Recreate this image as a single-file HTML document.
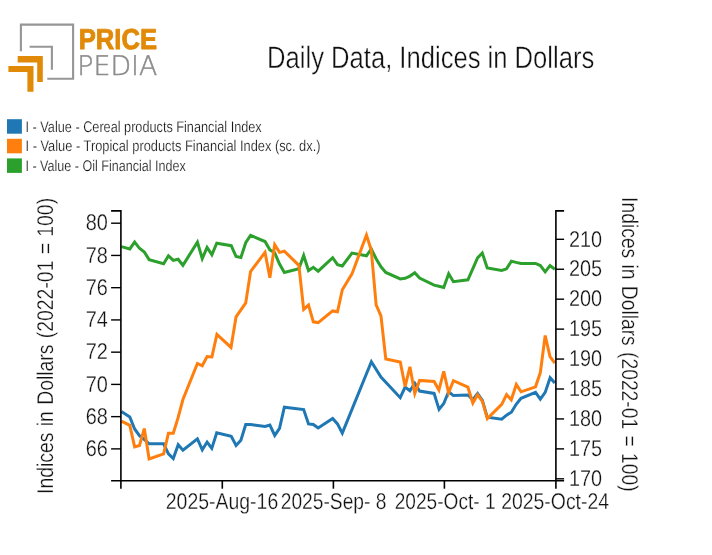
<!DOCTYPE html><html><head><meta charset="utf-8"><title>Daily Data, Indices in Dollars</title>
<style>html,body{margin:0;padding:0;background:#fff;}svg{display:block;will-change:transform;}text{font-kerning:normal;text-rendering:geometricPrecision;}</style></head><body>
<svg width="712" height="555" viewBox="0 0 712 555">
<rect width="712" height="555" fill="#fff"/>
<g fill="none" stroke="#969696" stroke-width="2.1">
<path d="M20.9,51.2 V24.6 H73.1 V78.7 H47.3"/>
<path d="M29.6,46.7 H51.9 V69.7"/>
</g>
<g fill="#e18a07">
<path d="M17.7,56.0 H42.8 V81.9 H37.2 V62.4 H17.7 Z"/>
<path d="M8.4,66 H33.5 V91.7 H27.4 V72 H8.4 Z"/>
</g>
<text transform="translate(78.76,48.80) scale(0.8858,1.0000)" font-size="28.90" text-anchor="start" fill="#e18a07" font-weight="bold" font-family="'Liberation Sans', Arial, Helvetica, sans-serif" xml:space="preserve" stroke="#e18a07" stroke-width="0.9" stroke-linejoin="round">PRICE</text>
<text transform="translate(77.26,74.80) scale(0.9935,1.0000)" font-size="27.00" text-anchor="start" fill="#8c8c8c" font-weight="200" font-family="'DejaVu Sans Light','DejaVu Sans','Liberation Sans',sans-serif" xml:space="preserve" stroke="#8c8c8c" stroke-width="0.45">PEDIA</text>
<text transform="translate(267.05,67.90) scale(0.8258,1.0000)" font-size="31.00" text-anchor="start" fill="#111" font-weight="normal" font-family="'Liberation Sans', Arial, Helvetica, sans-serif" xml:space="preserve" stroke="#fff" stroke-width="0.4" paint-order="fill stroke">Daily Data, Indices in Dollars</text>
<rect x="7" y="119.2" width="14.9" height="14.5" fill="#1f77b4"/>
<text transform="translate(25.53,131.70) scale(0.8249,1.0000)" font-size="15.40" text-anchor="start" fill="#151515" font-weight="normal" font-family="'Liberation Sans', Arial, Helvetica, sans-serif" xml:space="preserve" stroke="#fff" stroke-width="0.2" paint-order="fill stroke">I - Value - Cereal products Financial Index</text>
<rect x="7" y="138.8" width="14.9" height="14.5" fill="#ff7f0e"/>
<text transform="translate(25.55,151.40) scale(0.8336,1.0000)" font-size="15.40" text-anchor="start" fill="#151515" font-weight="normal" font-family="'Liberation Sans', Arial, Helvetica, sans-serif" xml:space="preserve" stroke="#fff" stroke-width="0.2" paint-order="fill stroke">I - Value - Tropical products Financial Index (sc. dx.)</text>
<rect x="7" y="158.4" width="14.9" height="14.5" fill="#2ca02c"/>
<text transform="translate(25.47,170.90) scale(0.8158,1.0000)" font-size="15.40" text-anchor="start" fill="#151515" font-weight="normal" font-family="'Liberation Sans', Arial, Helvetica, sans-serif" xml:space="preserve" stroke="#fff" stroke-width="0.2" paint-order="fill stroke">I - Value - Oil Financial Index</text>
<text transform="translate(107.78,455.60) scale(0.8732,1.0000)" font-size="22.80" text-anchor="end" fill="#111" font-weight="normal" font-family="'Liberation Sans', Arial, Helvetica, sans-serif" xml:space="preserve" stroke="#fff" stroke-width="0.3" paint-order="fill stroke">66</text>
<text transform="translate(107.78,423.60) scale(0.8732,1.0000)" font-size="22.80" text-anchor="end" fill="#111" font-weight="normal" font-family="'Liberation Sans', Arial, Helvetica, sans-serif" xml:space="preserve" stroke="#fff" stroke-width="0.3" paint-order="fill stroke">68</text>
<text transform="translate(107.78,391.60) scale(0.8732,1.0000)" font-size="22.80" text-anchor="end" fill="#111" font-weight="normal" font-family="'Liberation Sans', Arial, Helvetica, sans-serif" xml:space="preserve" stroke="#fff" stroke-width="0.3" paint-order="fill stroke">70</text>
<text transform="translate(107.78,358.60) scale(0.8732,1.0000)" font-size="22.80" text-anchor="end" fill="#111" font-weight="normal" font-family="'Liberation Sans', Arial, Helvetica, sans-serif" xml:space="preserve" stroke="#fff" stroke-width="0.3" paint-order="fill stroke">72</text>
<text transform="translate(107.78,326.60) scale(0.8732,1.0000)" font-size="22.80" text-anchor="end" fill="#111" font-weight="normal" font-family="'Liberation Sans', Arial, Helvetica, sans-serif" xml:space="preserve" stroke="#fff" stroke-width="0.3" paint-order="fill stroke">74</text>
<text transform="translate(107.78,294.60) scale(0.8732,1.0000)" font-size="22.80" text-anchor="end" fill="#111" font-weight="normal" font-family="'Liberation Sans', Arial, Helvetica, sans-serif" xml:space="preserve" stroke="#fff" stroke-width="0.3" paint-order="fill stroke">76</text>
<text transform="translate(107.78,262.60) scale(0.8732,1.0000)" font-size="22.80" text-anchor="end" fill="#111" font-weight="normal" font-family="'Liberation Sans', Arial, Helvetica, sans-serif" xml:space="preserve" stroke="#fff" stroke-width="0.3" paint-order="fill stroke">78</text>
<text transform="translate(107.78,229.60) scale(0.8732,1.0000)" font-size="22.80" text-anchor="end" fill="#111" font-weight="normal" font-family="'Liberation Sans', Arial, Helvetica, sans-serif" xml:space="preserve" stroke="#fff" stroke-width="0.3" paint-order="fill stroke">80</text>
<text transform="translate(569.02,485.60) scale(0.8712,1.0000)" font-size="22.80" text-anchor="start" fill="#111" font-weight="normal" font-family="'Liberation Sans', Arial, Helvetica, sans-serif" xml:space="preserve" stroke="#fff" stroke-width="0.3" paint-order="fill stroke">170</text>
<text transform="translate(569.02,455.60) scale(0.8712,1.0000)" font-size="22.80" text-anchor="start" fill="#111" font-weight="normal" font-family="'Liberation Sans', Arial, Helvetica, sans-serif" xml:space="preserve" stroke="#fff" stroke-width="0.3" paint-order="fill stroke">175</text>
<text transform="translate(569.02,425.60) scale(0.8712,1.0000)" font-size="22.80" text-anchor="start" fill="#111" font-weight="normal" font-family="'Liberation Sans', Arial, Helvetica, sans-serif" xml:space="preserve" stroke="#fff" stroke-width="0.3" paint-order="fill stroke">180</text>
<text transform="translate(569.02,395.60) scale(0.8712,1.0000)" font-size="22.80" text-anchor="start" fill="#111" font-weight="normal" font-family="'Liberation Sans', Arial, Helvetica, sans-serif" xml:space="preserve" stroke="#fff" stroke-width="0.3" paint-order="fill stroke">185</text>
<text transform="translate(569.02,365.60) scale(0.8712,1.0000)" font-size="22.80" text-anchor="start" fill="#111" font-weight="normal" font-family="'Liberation Sans', Arial, Helvetica, sans-serif" xml:space="preserve" stroke="#fff" stroke-width="0.3" paint-order="fill stroke">190</text>
<text transform="translate(569.02,335.60) scale(0.8712,1.0000)" font-size="22.80" text-anchor="start" fill="#111" font-weight="normal" font-family="'Liberation Sans', Arial, Helvetica, sans-serif" xml:space="preserve" stroke="#fff" stroke-width="0.3" paint-order="fill stroke">195</text>
<text transform="translate(569.02,305.60) scale(0.8712,1.0000)" font-size="22.80" text-anchor="start" fill="#111" font-weight="normal" font-family="'Liberation Sans', Arial, Helvetica, sans-serif" xml:space="preserve" stroke="#fff" stroke-width="0.3" paint-order="fill stroke">200</text>
<text transform="translate(569.02,275.60) scale(0.8712,1.0000)" font-size="22.80" text-anchor="start" fill="#111" font-weight="normal" font-family="'Liberation Sans', Arial, Helvetica, sans-serif" xml:space="preserve" stroke="#fff" stroke-width="0.3" paint-order="fill stroke">205</text>
<text transform="translate(569.02,246.60) scale(0.8712,1.0000)" font-size="22.80" text-anchor="start" fill="#111" font-weight="normal" font-family="'Liberation Sans', Arial, Helvetica, sans-serif" xml:space="preserve" stroke="#fff" stroke-width="0.3" paint-order="fill stroke">210</text>
<text transform="translate(222.00,508.80) scale(0.8528,1.0000)" font-size="22.80" text-anchor="middle" fill="#111" font-weight="normal" font-family="'Liberation Sans', Arial, Helvetica, sans-serif" xml:space="preserve" stroke="#fff" stroke-width="0.3" paint-order="fill stroke">2025-Aug-16</text>
<text transform="translate(333.59,508.80) scale(0.8429,1.0000)" font-size="22.80" text-anchor="middle" fill="#111" font-weight="normal" font-family="'Liberation Sans', Arial, Helvetica, sans-serif" xml:space="preserve" stroke="#fff" stroke-width="0.3" paint-order="fill stroke">2025-Sep- 8</text>
<text transform="translate(445.11,508.80) scale(0.8373,1.0000)" font-size="22.80" text-anchor="middle" fill="#111" font-weight="normal" font-family="'Liberation Sans', Arial, Helvetica, sans-serif" xml:space="preserve" stroke="#fff" stroke-width="0.3" paint-order="fill stroke">2025-Oct- 1</text>
<text transform="translate(555.10,508.80) scale(0.8513,1.0000)" font-size="22.80" text-anchor="middle" fill="#111" font-weight="normal" font-family="'Liberation Sans', Arial, Helvetica, sans-serif" xml:space="preserve" stroke="#fff" stroke-width="0.3" paint-order="fill stroke">2025-Oct-24</text>
<text transform="translate(53.00,345.92) rotate(-90) scale(0.8513,1.0000)" font-size="22.80" text-anchor="middle" fill="#111" font-weight="normal" font-family="'Liberation Sans', Arial, Helvetica, sans-serif" xml:space="preserve" stroke="#fff" stroke-width="0.3" paint-order="fill stroke" word-spacing="1.00">Indices in Dollars (2022-01 = 100)</text>
<text transform="translate(621.90,344.34) rotate(90) scale(0.8467,1.0000)" font-size="22.80" text-anchor="middle" fill="#111" font-weight="normal" font-family="'Liberation Sans', Arial, Helvetica, sans-serif" xml:space="preserve" stroke="#fff" stroke-width="0.3" paint-order="fill stroke" word-spacing="1.00">Indices in Dollars (2022-01 = 100)</text>
<g fill="none" stroke-width="3" stroke-linejoin="miter" stroke-miterlimit="4" stroke-linecap="butt">
<polyline stroke="#1f77b4" points="121.40,411.50 129.80,416.90 134.63,429.00 139.46,435.70 144.29,439.50 149.12,443.80 163.61,443.80 168.44,453.90 173.27,458.52 178.20,444.76 182.93,450.20 197.41,438.84 202.30,449.80 207.09,442.06 211.78,448.34 216.74,432.90 231.23,436.30 236.09,445.50 240.89,440.30 245.72,424.50 250.55,424.50 265.04,426.40 269.87,425.10 274.75,435.39 279.53,428.40 284.36,407.20 303.68,409.60 308.51,423.90 313.34,424.50 318.17,428.00 332.66,418.50 337.49,423.90 342.29,433.13 371.37,361.78 380.96,377.00 400.23,397.71 405.11,387.10 409.94,390.80 414.77,383.31 419.60,391.10 434.09,393.40 439.06,409.33 443.75,403.50 448.61,391.71 453.41,395.60 467.90,395.00 472.73,399.80 477.56,393.52 482.39,400.30 487.22,417.20 501.71,419.20 506.54,415.20 511.37,412.20 516.20,404.30 521.03,398.30 535.52,392.40 540.35,399.13 545.18,392.40 550.12,377.70 554.84,383.10"/>
<polyline stroke="#2ca02c" points="121.40,246.60 129.80,248.90 134.63,242.03 139.46,248.30 144.29,252.00 149.12,259.60 163.61,263.80 168.44,255.80 173.27,260.40 178.10,259.20 182.92,265.30 197.42,242.13 202.25,258.67 207.08,247.44 211.91,254.73 216.74,243.20 231.23,245.70 236.06,256.50 240.89,257.50 245.72,242.70 250.55,235.40 265.04,241.50 269.87,249.80 274.70,252.80 279.53,264.10 284.36,272.50 298.85,268.80 303.68,255.45 308.51,270.55 313.34,267.35 318.17,271.22 332.66,257.68 337.49,264.60 342.32,266.00 351.98,253.10 366.47,255.80 371.26,248.86 376.13,258.70 380.96,266.80 385.79,272.40 400.28,278.90 405.11,278.30 409.94,276.10 414.77,272.70 419.60,278.10 434.09,285.20 438.92,286.30 443.75,287.40 448.68,273.79 453.41,281.70 467.90,279.80 472.73,268.80 477.56,257.90 482.28,253.00 487.22,268.00 501.71,270.50 506.54,268.80 511.37,261.20 516.20,262.40 521.03,263.40 535.52,263.40 540.35,265.50 545.18,271.83 550.01,265.50 554.84,269.20"/>
<polyline stroke="#ff7f0e" points="121.40,421.10 129.80,425.30 134.63,446.90 139.46,445.50 144.29,428.55 149.12,459.00 163.61,453.90 168.44,433.20 173.27,433.20 178.10,417.70 182.93,399.50 197.42,363.50 202.25,365.80 207.08,356.50 211.91,356.90 216.92,334.30 230.99,347.46 236.06,316.80 240.89,309.90 245.72,302.90 250.55,271.50 265.04,252.39 269.87,277.75 274.70,244.74 279.53,252.40 284.36,251.20 298.85,265.30 303.68,309.41 308.51,305.03 313.34,321.80 318.17,322.60 332.66,310.90 337.49,311.70 342.32,289.70 351.98,273.90 366.47,235.01 371.30,250.30 376.13,304.90 380.96,315.80 385.79,359.00 400.28,362.00 405.11,386.55 409.94,366.75 414.77,393.55 419.60,380.40 434.09,381.40 438.92,390.09 443.75,371.45 448.58,392.77 453.41,380.70 467.90,387.20 472.85,403.05 477.59,394.75 482.39,401.30 487.36,418.66 501.71,404.30 506.57,394.64 511.26,399.75 516.33,384.55 521.03,391.80 535.52,386.80 540.35,372.60 545.18,335.55 550.01,356.70 554.84,363.20"/>
</g>
<g fill="none" stroke="#000" stroke-width="1.6">
<path d="M111.1,210.90 H120.90 V480.75"/>
<path d="M111.1,480.75 H564.1"/>
<path d="M555.90,480.75 V210.90 H564.1"/>
<path d="M120.90,480.75 V488.7"/>
<path d="M222.30,480.75 V488.7"/>
<path d="M333.40,480.75 V488.7"/>
<path d="M444.40,480.75 V488.7"/>
<path d="M555.90,480.75 V488.7"/>
</g>
<g fill="none" stroke="#000" stroke-width="1.4">
<path d="M111.1,448.88 H120.90"/>
<path d="M111.1,416.64 H120.90"/>
<path d="M111.1,384.40 H120.90"/>
<path d="M111.1,352.16 H120.90"/>
<path d="M111.1,319.92 H120.90"/>
<path d="M111.1,287.68 H120.90"/>
<path d="M111.1,255.44 H120.90"/>
<path d="M111.1,223.20 H120.90"/>
<path d="M555.90,478.82 H564.1"/>
<path d="M555.90,448.88 H564.1"/>
<path d="M555.90,418.94 H564.1"/>
<path d="M555.90,389.00 H564.1"/>
<path d="M555.90,359.06 H564.1"/>
<path d="M555.90,329.12 H564.1"/>
<path d="M555.90,299.18 H564.1"/>
<path d="M555.90,269.24 H564.1"/>
<path d="M555.90,239.30 H564.1"/>
</g>
</svg></body></html>
